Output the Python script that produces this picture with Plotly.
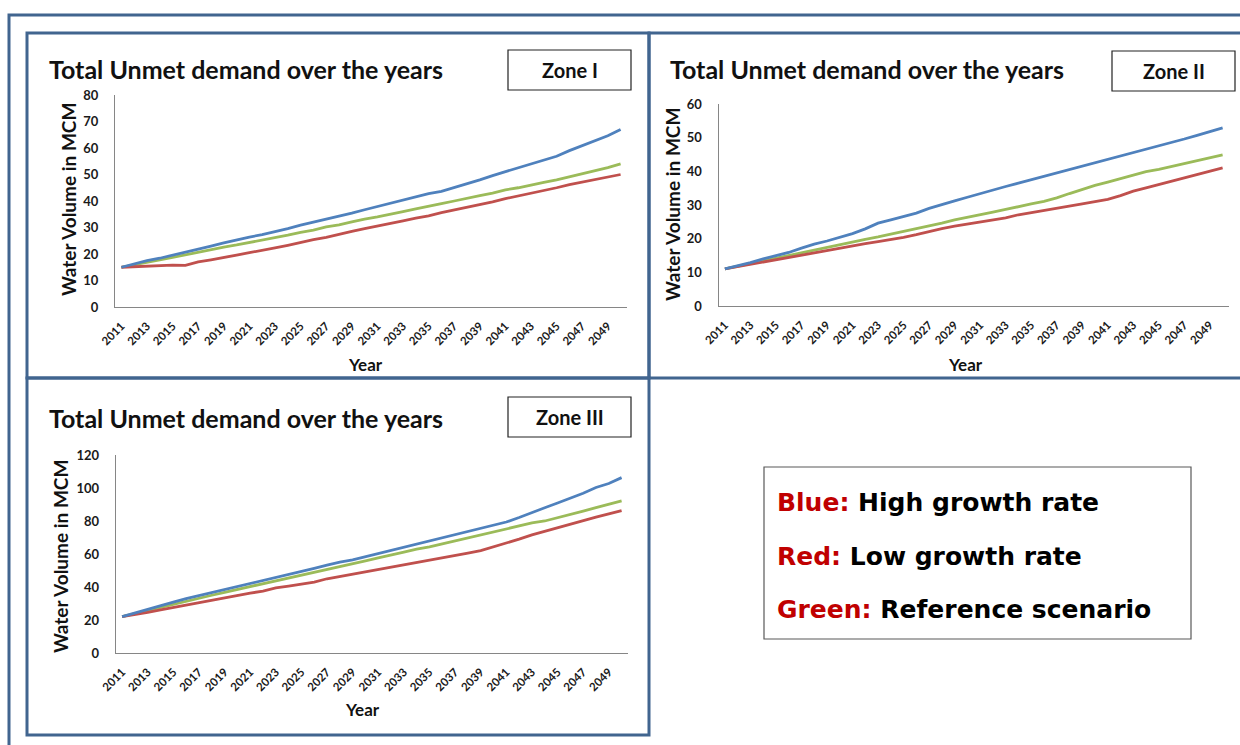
import plotly.graph_objects as go

W, H = 1240, 745

years = list(range(2011, 2051))
tick_years = list(range(2011, 2050, 2))

zone1_high = [15.0, 16.3, 17.5, 18.4, 19.5, 20.7, 21.9, 23.0, 24.2, 25.4,
              26.4, 27.3, 28.4, 29.6, 30.9, 32.0, 33.2, 34.4, 35.4, 36.7,
              37.9, 39.1, 40.4, 41.6, 42.8, 43.6, 45.0, 46.6, 48.0, 49.6,
              51.1, 52.4, 54.0, 55.3, 56.9, 59.0, 60.8, 62.5, 64.6, 67.0]
zone1_low = [15.0, 15.2, 15.5, 15.5, 15.8, 15.7, 17.0, 17.8, 18.6, 19.6,
             20.5, 21.3, 22.3, 23.3, 24.4, 25.4, 26.3, 27.5, 28.5, 29.6,
             30.5, 31.4, 32.5, 33.5, 34.4, 35.6, 36.6, 37.8, 38.8, 39.7,
             40.9, 41.9, 42.8, 44.0, 45.0, 46.2, 47.1, 48.0, 49.0, 50.0]
zone1_ref = [15.0, 16.0, 17.0, 17.8, 18.7, 19.7, 20.6, 21.5, 22.6, 23.4,
             24.3, 25.3, 26.2, 27.1, 28.2, 29.0, 30.2, 31.0, 32.1, 33.2,
             34.0, 34.9, 36.0, 37.0, 38.1, 39.0, 40.0, 41.1, 42.0, 43.0,
             44.2, 45.0, 46.1, 47.0, 48.0, 49.1, 50.2, 51.4, 52.6, 54.0]

zone2_high = [11.0, 11.9, 12.9, 14.0, 14.9, 15.9, 17.2, 18.4, 19.3, 20.4,
              21.5, 22.9, 24.6, 25.6, 26.6, 27.6, 29.0, 30.0, 31.2, 32.3,
              33.4, 34.6, 35.5, 36.5, 37.5, 38.5, 39.5, 40.5, 41.5, 42.5,
              43.5, 44.5, 45.4, 46.4, 47.5, 48.6, 49.6, 50.7, 51.8, 52.9]
zone2_low = [11.0, 11.7, 12.4, 13.0, 13.7, 14.3, 15.0, 15.7, 16.4, 17.2,
             17.9, 18.5, 19.1, 19.7, 20.4, 21.2, 22.2, 23.0, 23.7, 24.3,
             24.9, 25.5, 26.2, 27.1, 27.7, 28.4, 29.0, 29.7, 30.3, 31.0,
             31.7, 32.8, 34.1, 35.1, 36.1, 37.1, 38.1, 39.1, 40.1, 41.0]
zone2_ref = [11.0, 11.8, 12.6, 13.4, 14.2, 15.0, 15.9, 16.8, 17.6, 18.3,
             19.1, 19.8, 20.5, 21.3, 22.2, 22.9, 23.6, 24.6, 25.6, 26.3,
             27.0, 27.9, 28.7, 29.6, 30.3, 31.1, 32.1, 33.4, 34.7, 35.8,
             36.8, 37.8, 38.8, 39.9, 40.6, 41.5, 42.4, 43.2, 44.1, 44.9]

zone3_high = [22.0, 24.3, 26.5, 28.6, 30.8, 32.9, 34.7, 36.5, 38.4, 40.3,
              42.1, 43.9, 45.8, 47.6, 49.4, 51.3, 53.2, 55.1, 56.4, 58.3,
              60.3, 62.2, 64.1, 66.0, 67.8, 69.6, 71.4, 73.3, 75.2, 77.3,
              79.4, 82.1, 85.2, 88.0, 90.9, 93.9, 96.8, 100.3, 102.7, 106.3]
zone3_low = [22.0, 23.2, 24.6, 26.1, 27.6, 29.0, 30.4, 31.8, 33.6, 35.0,
             36.3, 37.5, 39.4, 40.6, 41.8, 43.0, 45.0, 46.4, 47.6, 48.9,
             50.6, 52.0, 53.4, 54.8, 56.0, 57.6, 59.0, 60.5, 62.0, 64.2,
             66.4, 69.0, 71.6, 73.8, 76.0, 78.2, 80.3, 82.3, 84.3, 86.3]
zone3_ref = [22.0, 23.9, 25.9, 27.8, 29.7, 31.5, 33.3, 35.0, 36.8, 38.5,
             40.2, 41.8, 43.6, 45.5, 47.1, 48.9, 50.7, 52.2, 53.9, 55.8,
             57.6, 59.2, 61.1, 62.9, 64.3, 66.2, 68.0, 69.6, 71.5, 73.5,
             75.0, 76.8, 78.8, 80.0, 81.9, 84.0, 86.0, 88.1, 90.1, 92.2]

zone_names = ["Zone I", "Zone II", "Zone III"]
y_ranges = [(0, 80, 10), (0, 60, 10), (0, 120, 20)]
chart_title = "Total Unmet demand over the years"
y_title = "Water Volume in MCM"
x_title = "Year"
legend_lines = [("Blue:", "High growth rate"),
                ("Red:", "Low growth rate"),
                ("Green:", "Reference scenario")]

BLUE, RED, GREEN = "#4F81BD", "#C0504D", "#9BBB59"
FRAME = "#41658F"
FONT = "Lato"

def px(x):
    return x / W

def py(y):
    return 1 - y / H

# plot areas in pixel coords (left, right, top, bottom)
areas = [(115, 627, 95, 307), (718.5, 1229, 104, 306), (115.7, 628, 455, 653)]
series = [(zone1_high, zone1_low, zone1_ref),
          (zone2_high, zone2_low, zone2_ref),
          (zone3_high, zone3_low, zone3_ref)]

fig = go.Figure()
layout = dict(width=W, height=H, margin=dict(l=0, r=0, t=0, b=0, autoexpand=False),
              paper_bgcolor="white", plot_bgcolor="white", showlegend=False)

for i, ((l, r, t, b), (hi, lo, ref), (y0, y1, dy)) in enumerate(zip(areas, series, y_ranges)):
    n = "" if i == 0 else str(i + 1)
    for vals, col in ((ref, GREEN), (lo, RED), (hi, BLUE)):
        fig.add_trace(go.Scatter(x=years, y=vals, mode="lines",
                                 line=dict(color=col, width=2.8),
                                 xaxis="x" + n, yaxis="y" + n, hoverinfo="skip"))
    layout["xaxis" + n] = dict(domain=[px(l), px(r)], range=[2010.5, 2050.5],
                               anchor="y" + n, tickvals=tick_years,
                               ticktext=["<b>%d</b>" % v for v in tick_years], tickangle=-45,
                               tickfont=dict(family=FONT, size=11.5, color="#1a1a1a"),
                               showline=True, linecolor="#868686", linewidth=1,
                               showgrid=False, zeroline=False, ticks="",
                               ticklabelstandoff=7, automargin=False)
    yt = list(range(y0, y1 + 1, dy))
    layout["yaxis" + n] = dict(domain=[py(b), py(t)], range=[y0, y1],
                               anchor="x" + n, tickvals=yt,
                               ticktext=["<b>%d</b>" % v for v in yt],
                               tickfont=dict(family=FONT, size=13, color="#1a1a1a"),
                               showline=True, linecolor="#868686", linewidth=1,
                               showgrid=False, zeroline=False, ticks="",
                               ticklabelstandoff=13, automargin=False)
fig.update_layout(**layout)

shapes = []
# outer frame
shapes.append(dict(type="rect", xref="paper", yref="paper", x0=px(9), x1=px(1250),
                   y0=py(760), y1=py(15), line=dict(color=FRAME, width=3)))
# panels
for (x0, x1, y0, y1) in [(27, 649, 33, 378), (649, 1250, 33, 378), (27, 649, 378, 735)]:
    shapes.append(dict(type="rect", xref="paper", yref="paper", x0=px(x0), x1=px(x1),
                       y0=py(y1), y1=py(y0), line=dict(color=FRAME, width=3)))
# zone label boxes
for (x0, x1, y0, y1) in [(508, 631, 50, 90), (1112, 1235, 51, 91), (508, 631, 397, 437)]:
    shapes.append(dict(type="rect", xref="paper", yref="paper", x0=px(x0), x1=px(x1),
                       y0=py(y1), y1=py(y0), line=dict(color="#222222", width=1.2),
                       fillcolor="white"))
# legend box
shapes.append(dict(type="rect", xref="paper", yref="paper", x0=px(764), x1=px(1191),
                   y0=py(639), y1=py(467), line=dict(color="#595959", width=1.2),
                   fillcolor="white"))

ann = []
def text(x, y, s, size, xanchor="left", angle=0, family=FONT, color="#111111"):
    ann.append(dict(xref="paper", yref="paper", x=px(x), y=py(y), text=s,
                    showarrow=False, xanchor=xanchor, yanchor="middle",
                    textangle=angle, font=dict(family=family, size=size, color=color)))

title_pos = [(47, 69), (668, 69), (47, 418)]
label_pos = [(569.5, 70), (1173.5, 71), (569.5, 417)]
ytitle_pos = [(68, 200), (673, 205), (60, 557)]
xtitle_pos = [(365, 364), (965, 364), (362, 709)]
for i in range(3):
    text(*title_pos[i], "<b>" + chart_title + "</b>", 25)
    text(*label_pos[i], "<b>" + zone_names[i] + "</b>", 20, xanchor="center")
    text(*ytitle_pos[i], "<b>" + y_title + "</b>", 19, xanchor="center", angle=-90)
    text(*xtitle_pos[i], "<b>" + x_title + "</b>", 17, xanchor="center")

leg_y = [502, 556, 609]
for (k, v), y in zip(legend_lines, leg_y):
    text(775, y, "<b><span style='color:#C00000'>" + k + "</span> " + v + "</b>", 25,
         family="DejaVu Sans", color="#000000")

fig.update_layout(shapes=shapes, annotations=ann)
fig.write_html("out.html",
               post_script="document.body.style.margin='0';document.body.style.overflow='hidden';")
